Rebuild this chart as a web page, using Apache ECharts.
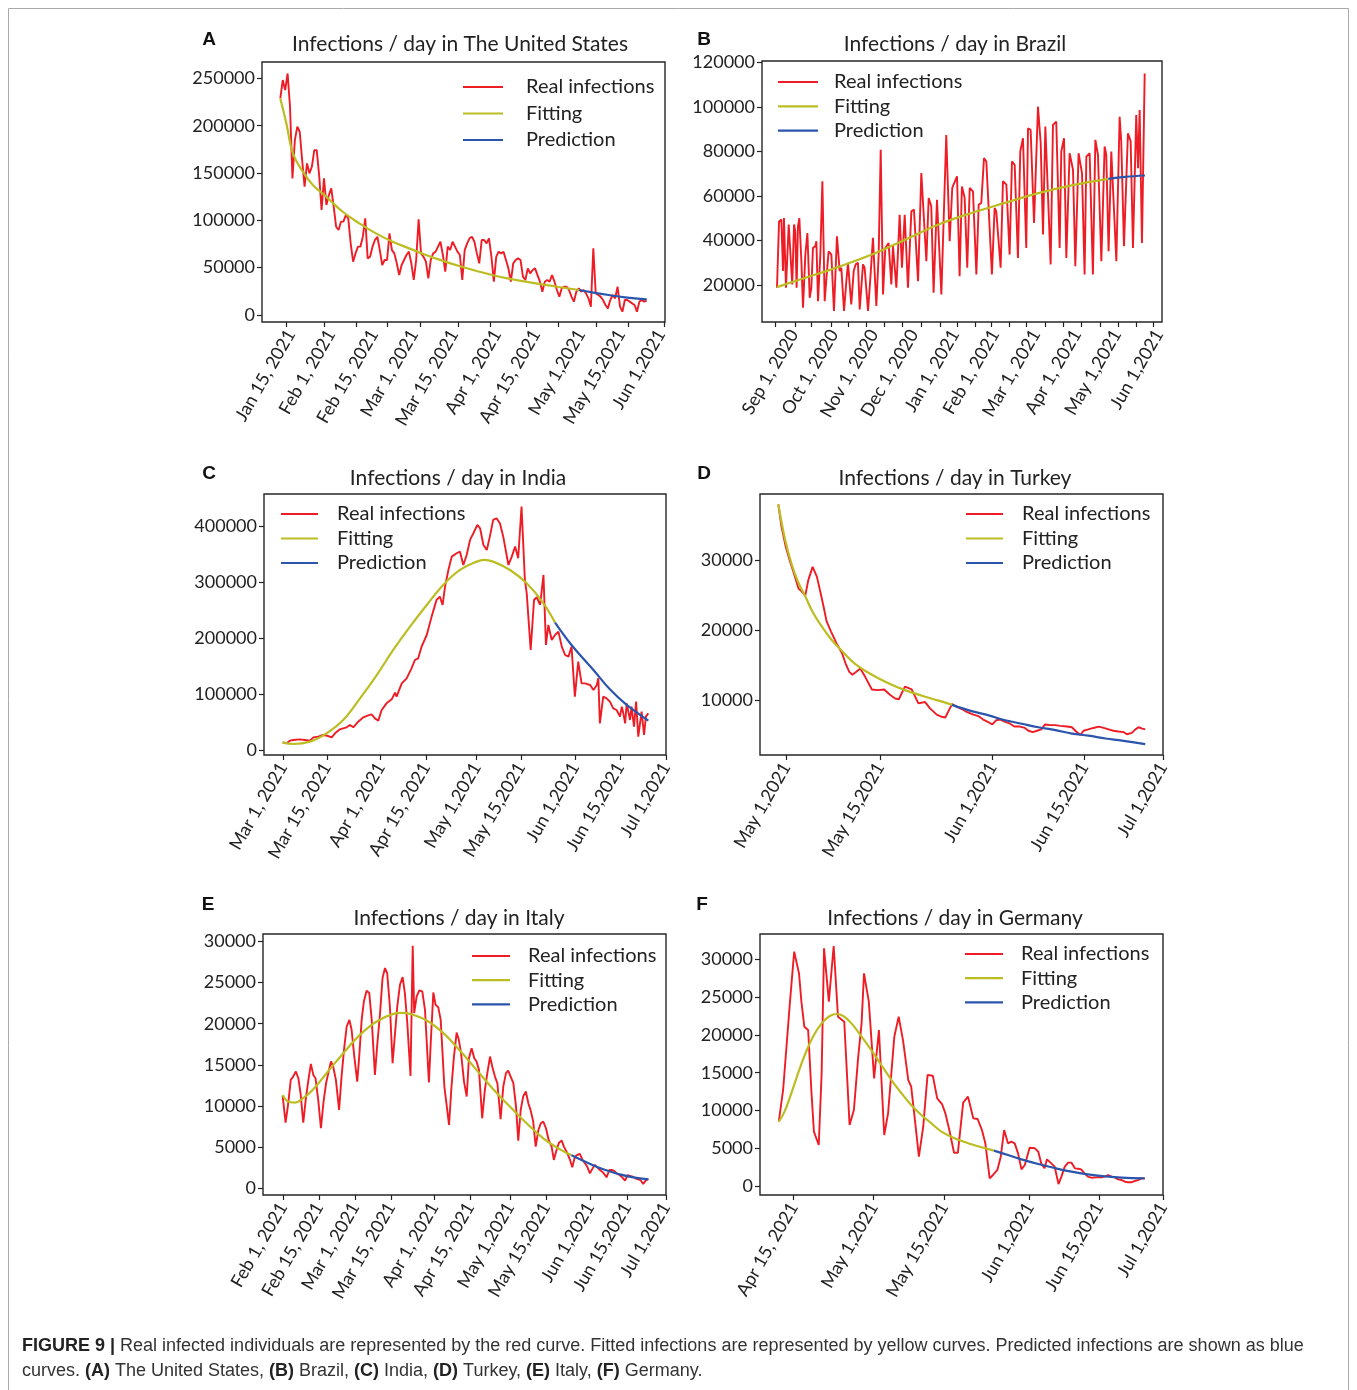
<!DOCTYPE html>
<html><head><meta charset="utf-8">
<script src="https://cdn.jsdelivr.net/npm/echarts@6/dist/echarts.min.js"></script>
<style>html,body{margin:0;padding:0;background:#fff}#c{width:1357px;height:1390px}</style>
</head><body><div id="c"></div>
<script>
// ---------------- A: United States ----------------
const usReal = [228800,248200,237600,255200,220000,144300,184800,198900,193600,163700,
135500,160200,149600,156600,174200,174200,147800,110900,144300,116200,
126700,133800,114400,93300,89800,98600,98600,105600,102100,75700,
56300,65100,72200,72200,82700,102100,59800,61600,72200,79200,
82700,68600,52800,58100,58100,86200,68600,65100,54600,42200,
52800,58100,63400,66900,54600,37000,58100,101000,65100,61600,
56300,38700,58100,65100,66900,72200,77400,63400,45800,72200,
68600,77400,72200,66900,63400,37000,68600,75700,81000,82700,
77400,65100,54600,79200,79200,75700,81000,61600,35200,61600,
66900,65100,66900,58100,49300,35200,54600,58100,59800,58100,
40500,37000,49300,44000,47500,49300,42200,35200,24600,35200,
37000,35200,42200,35200,26400,19400,28200,29900,29900,26400,
19400,14100,24600,28200,24600,26400,22900,17600,8800,70400,
22900,21100,19400,15800,10600,7000,15800,21100,17600,29900,
8800,3500,15800,15800,14100,12300,10600,3500,14100,15800,
14100,15100];
const usFitDay = [0,2.5,5.2,9.3,13.4,18.9,25.7,32.6,39.4,46.3,53.1,60.0,66.8,73.7,80.5,87.3,94.2,101.0,107.9,114.7,123.2];
const usFitVal = [228800,202400,170700,151400,137300,125000,109100,96800,86200,77400,70400,63400,57400,51700,46800,42200,38400,35200,32400,29600,26400];
const usPredDay = [123.2,128.4,135.3,142.1,151];
const usPredVal = [26400,23900,21100,18700,16500];
const usTickPos = [2.3,18.0,31.2,44.0,57.6,73.2,86.4,101.3,114.4,130.1,143.3,158.1];
const usLabelPos = [4.4,20.9,38.6,55.1,71.6,89.3,105.4,123.9,140.4,156.9];
const usLabels = ['Jan 15, 2021','Feb 1, 2021','Feb 15, 2021','Mar 1, 2021','Mar 15, 2021','Apr 1, 2021','Apr 15, 2021','May 1,2021','May 15,2021','Jun 1,2021'];
const usYTicks = [0,50000,100000,150000,200000,250000];

// ---------------- B: Brazil ----------------
const brRealDay = [0,1.5,3.2,4.4,5.1,6.6,8.6,9.8,11.2,12.5,13.4,14.4,15.4,16.4,17.9,19.1,20.8,22.3,24.0,25.2,
26.4,28.1,28.9,30.1,31.8,33.3,35.0,36.7,37.9,39.9,41.8,44.0,46.0,47.2,49.2,50.9,52.1,54.5,56.3,57.7,
59.4,60.7,63.1,64.3,66.8,68.7,70.4,72.9,74.6,76.1,77.8,79.5,81.9,83.9,85.1,87.6,90.0,91.7,93.7,96.1,
98.6,100.5,103.5,105.9,107.1,109.6,111.3,113.2,114.9,117.4,120.6,124.2,126.7,128.6,132.1,
134.0,135.7,137.7,139.6,141.4,143.8,146.3,148.0,149.9,151.9,153.6,155.3,157.7,159.7,160.9,164.1,165.8,168.3,170.7,172.4,
174.4,176.8,178.5,180.5,182.9,184.2,186.1,188.6,191.5,193.5,195.2,196.9,198.3,200.8,202.5,204.9,207.4,208.6,210.6,212.3,
214.7,217.2,218.9,221.3,223.8,225.7,227.0,229.4,231.8,233.6,235.5,238.0,240.4,241.6,243.3,245.3,246.5,249.0,251.4,252.6,
254.6,257.5,259.5,261.2,263.6,264.9,266.1,267.8,269.8];
const brRealVal = [18800,48600,49400,26300,50100,18800,47200,46400,20300,47200,44200,18800,46400,50100,30700,9900,33700,43400,14300,18800,
36700,37500,39700,12800,33700,66600,12800,26300,35200,33700,8400,41900,26300,27800,8400,21800,30000,11300,26300,29300,
30000,9100,29300,27800,8400,24800,41200,10600,33700,80700,15800,36700,38900,20300,37500,18800,51600,27800,51600,18800,
53100,53900,21800,70300,69500,30700,59100,55400,16600,58300,15800,87400,39700,63600,68800,
24000,64300,59100,27800,63600,62100,24800,56100,56900,77000,75500,54600,24800,54600,53100,27800,66600,65100,33700,75500,
74000,32200,80000,85900,36700,90400,89700,47900,100100,83700,42700,91200,91200,29300,91900,93400,36700,80000,85900,32200,
79200,71800,28500,79200,70300,24800,77700,79200,24800,85200,78500,30700,82200,78500,35200,80000,79200,30700,95600,84500,
37500,88200,84500,36700,96400,72500,98600,38900,115000];
const brFitDay = [0,20.8,45.2,69.6,94.1,118.5,142.9,167.3,191.8,216.2,243.1];
const brFitVal = [19100,23300,28200,33700,40400,47200,52400,56900,61300,64800,67700];
const brPredDay = [243.1,255.3,270];
const brPredVal = [67700,68600,69200];
const brTickPos = [-1.5,13.2,24.9,39.6,52.1,65.3,78.5,91.7,105.7,119.6,132.1,145.3,157.0,170.2,182.7,196.6,209.8,223.0,237.0,250.2,263.4,275.9];
const brLabelPos = [12.5,41.8,71.2,100.5,130.6,159.9,190.0,220.1,249.5,280.3];
const brLabels = ['Sep 1, 2020','Oct 1, 2020','Nov 1, 2020','Dec 1, 2020','Jan 1, 2021','Feb 1, 2021','Mar 1, 2021','Apr 1, 2021','May 1,2021','Jun 1,2021'];
const brYTicks = [20000,40000,60000,80000,100000,120000];

// ---------------- C: India ----------------
const inRealDay = [0,1.3,2.4,3.5,5.7,7.3,9.0,10.1,11.7,13.3,15.0,16.1,17.2,18.8,21.0,22.1,23.2,24.8,26.5,28.1,
29.2,30.3,31.4,32.5,34.1,35.8,36.9,37.4,39.1,40.7,42.3,43.4,44.5,45.6,47.3,48.9,50.5,51.6,52.5,53.3,
54.4,55.5,57.1,58.2,59.3,60.4,61.5,62.6,63.9,64.8,65.9,67.0,68.0,69.1,70.2,71.3,72.4,74.1,75.2,76.3,
77.3,78.4,79.5,80.1,81.4,82.5,83.4,84.5,85.6,86.4,87.2,88.3,89.4,90.5,91.6,92.7,93.8,94.8,95.9,97.0,
98.1,99.2,100.9,102.0,103.1,103.6,104.1,105.2,106.3,107.4,108.5,109.6,110.7,111.3,111.8,112.4,112.9,114.0,114.5,115.3,
116.0,116.7,117.8,118.6,119.2,120.0];
const inRealVal = [13700,11900,16700,17900,19000,17900,16700,22600,23800,26800,25000,22600,29800,36900,40500,44600,40500,50600,58300,61900,
63700,56500,52400,71400,83300,90500,102400,95200,119000,128000,145800,160700,163700,184500,205300,238100,267800,273800,258900,291600,
321400,345200,351200,354100,330300,348200,375000,386900,401800,395800,366000,357100,380900,410700,413700,404700,380900,330300,345200,363100,
342200,434500,303600,279700,178600,267800,272600,258900,312500,187500,223200,196400,205300,211300,184500,169600,166700,184500,95200,157700,
119000,119000,116100,107100,116100,128000,47600,95200,92300,86300,74400,71400,59500,77400,65500,47600,83300,53600,77400,41700,
86300,23800,68400,26800,59500,65500];
const inFitDay = [0,3.5,9.0,14.4,19.9,25.4,30.9,36.3,41.8,47.3,52.7,58.2,63.7,66.1,69.1,74.6,80.1,85.6,89.4];
const inFitVal = [13700,10700,14900,29800,53600,92300,133900,178600,220200,258900,294600,321400,336300,339300,336300,321400,297600,261900,227400];
const inPredDay = [89.4,94.8,102.0,107.4,112.9,120.0];
const inPredVal = [227400,187500,142800,108300,80400,52400];
const inTickPos = [0.1,14.5,32.2,47.0,63.7,78.2,95.9,110.7,125.8];
const inLabels = ['Mar 1, 2021','Mar 15, 2021','Apr 1, 2021','Apr 15, 2021','May 1,2021','May 15,2021','Jun 1,2021','Jun 15,2021','Jul 1,2021'];
const inYTicks = [0,100000,200000,300000,400000];

// ---------------- D: Turkey ----------------
const trRealDay = [0,0.5,1.2,1.9,2.6,3.3,3.8,4.4,4.9,5.6,6.3,6.8,7.4,7.9,8.6,9.5,10.4,11.0,11.6,12.1,
12.7,13.4,14.2,15.3,16.3,17.3,18.3,19.1,19.7,20.7,21.8,22.9,24.0,24.8,25.9,26.7,27.3,28.4,29.2,30.0,
30.8,31.9,32.7,33.5,34.4,35.0,35.6,36.3,37.0,37.7,38.6,39.5,40.3,40.9,41.6,42.3,43.0,43.6,44.5,45.3,
46.1,47.2,48.0,48.7,49.4,49.9,50.7,51.5,52.4,53.2,54.0,54.8,55.6,56.5,57.0,57.8,58.4,58.9,59.5,60.0];
const trRealVal = [37900,34800,31900,29800,27900,25900,25500,24900,27100,29000,27600,25700,23300,21200,19800,18100,16700,15200,14000,13600,
14000,14500,13300,11500,11400,11500,10700,10200,10100,11900,11500,9500,9700,8800,7900,7600,7500,9400,9000,8700,
8300,7900,7700,7200,6800,6500,7100,7200,6900,6700,6200,6200,6000,5600,5400,5600,5800,6500,6400,6400,
6300,6200,6100,5500,5000,5600,5800,6000,6200,6000,5800,5600,5500,5400,5100,5300,5800,6100,5900,5800];
const trFitDay = [0,1.1,2.2,3.3,4.4,5.7,7.1,8.7,10.4,12.5,15.3,18.0,20.7,23.5,26.2,28.4];
const trFitVal = [37900,32900,29300,26700,24800,22400,20500,18600,17000,15200,13600,12400,11400,10600,9900,9300];
const trPredDay = [28.4,31.6,34.4,37.1,39.8,42.5,45.3,48.0,50.7,53.5,56.2,60.0];
const trPredVal = [9300,8400,7800,7100,6600,6100,5700,5200,4900,4500,4200,3700];
const trTickPos = [1.3,16.6,35.0,50.0,62.9];
const trLabels = ['May 1,2021','May 15,2021','Jun 1,2021','Jun 15,2021','Jul 1,2021'];
const trYTicks = [10000,20000,30000];

// ---------------- E: Italy ----------------
const itRealDay = [0,1.2,2.3,3.3,4.3,5.4,6.4,7.3,8.4,9.4,10.5,11.5,12.5,13.4,14.5,15.6,16.6,17.7,18.9,19.7,
20.6,21.7,23.0,24.0,25.0,26.1,27.2,28.1,29.2,30.4,31.2,32.2,33.1,34.2,35.3,36.3,37.6,38.6,39.7,40.7,
41.7,42.6,43.7,44.8,45.8,46.7,47.8,48.9,49.8,50.8,52.1,53.0,53.6,54.6,55.7,56.9,58.0,59.6,60.4,61.4,
62.3,63.4,64.4,65.9,67.8,68.8,69.8,70.9,71.8,72.7,73.9,75.0,75.9,77.0,78.1,79.0,80.0,81.3,82.4,83.4,
84.5,85.4,86.5,87.5,88.8,89.9,91.0,91.9,92.9,94.0,95.1,96.0,97.0,98.0,99.1,100.1,101.0,102.1,103.1,104.2,
105.2,106.2,107.3,108.4,109.6,110.5,111.6,112.6,113.7,114.6,116.0,117.1,118.0,119.1,120.0,121.1,122.2,123.2,124.1,125.2,
126.3,127.2,128.2,129.3,130.6,132.0,133.1,134.0,135.0,136.1,137.2,138.1,139.5,140.6,141.5,142.6,143.7,144.9,145.8,146.9,
147.9,149.0];
const itRealVal = [11230,7990,10340,13180,13580,14190,13380,11550,7990,10740,13180,15120,13780,13380,10740,7300,10340,12770,14390,15410,
14800,13180,9530,13580,16820,19660,20470,19260,16010,12970,16010,20470,22700,24000,23720,20470,13780,17630,21280,25540,
26760,26150,22090,15200,18850,22090,24730,25660,23720,20070,13660,29470,21280,23310,24040,23920,21690,12850,18040,23800,
22300,22010,20470,12360,7700,12360,16010,18930,18040,16420,12970,11150,15810,17030,15810,15410,14390,8510,11960,13990,
16010,14800,13580,12770,8390,12360,13990,14310,13580,12770,9930,5800,9530,11150,11760,10340,9530,8110,5070,7090,
7900,8110,7300,5880,5070,3450,4660,5550,5800,5070,4260,3450,2550,3850,4050,4180,3450,3040,2630,1820,
2430,2840,2550,2230,1910,1340,2230,2230,2150,1820,1620,1420,930,1620,1500,1420,1220,1090,1010,530,
930,1180];
const itFitDay = [0,2.3,5.0,8.4,12.5,17.9,24.7,31.5,38.3,45.1,48.5,51.9,58.7,65.5,72.2,79.0,85.8,92.6,99.4,106.2,113.0,117.7];
const itFitVal = [11350,10540,10420,10950,12040,13990,16420,18650,20270,21200,21320,21200,20390,18850,16740,14390,12040,9930,7900,6080,4740,4010];
const itPredDay = [117.7,123.8,130.6,137.4,142.9,149.0];
const itPredVal = [4010,3160,2310,1700,1340,1090];
const itTickPos = [0.1,14.8,29.5,44.1,61.7,76.3,92.6,107.3,125.2,140.3,156.2];
const itLabels = ['Feb 1, 2021','Feb 15, 2021','Mar 1, 2021','Mar 15, 2021','Apr 1, 2021','Apr 15, 2021','May 1,2021','May 15,2021','Jun 1,2021','Jun 15,2021','Jul 1,2021'];
const itYTicks = [0,5000,10000,15000,20000,25000,30000];

// ---------------- F: Germany ----------------
const deRealDay = [0,0.9,1.6,2.3,3.2,4.2,4.7,5.3,6.1,6.8,7.3,8.3,8.9,9.4,10.4,11.4,12.3,13.6,14.3,14.7,
15.6,16.5,17.2,17.7,18.7,19.8,20.8,21.9,22.7,24.0,24.9,25.8,26.9,27.5,28.2,29.1,30.0,30.9,32.0,32.9,
33.9,34.6,35.5,36.4,37.2,38.3,39.3,40.4,41.3,42.2,42.9,43.8,44.5,45.4,46.1,46.8,47.6,48.3,49.0,49.7,
50.4,51.1,52.1,53.2,53.9,54.5,55.2,55.7,56.6,57.3,58.1,58.7,59.4,60.1,60.8,61.5,62.2,62.8,63.5,64.2,
64.9,66.0,67.0,67.7,68.4,69.1,69.8,70.5,71.2,71.9,72.5,73.2,73.9,74.6,75.3,76.0];
const deRealVal = [8520,12710,18440,24180,31020,28150,24400,21090,20650,12270,7190,5430,14910,31460,24400,31770,22410,21750,13150,8070,
10060,17120,21530,28150,24400,14250,20650,6750,9620,19770,22410,19320,14030,13150,9180,3880,7850,14690,14600,11600,
10850,9620,7190,4410,4410,11030,11820,8960,8870,7410,5650,1010,1460,2120,3880,7410,5650,5870,5650,4320,
2210,2780,5070,4990,4540,3000,2340,3530,3000,2560,260,1240,2560,3090,3090,2340,2290,2210,1680,1240,
1100,1150,1150,1240,1460,1240,1150,880,790,570,490,490,660,790,1010,1010];
const deFitDay = [0,1.2,2.6,4.0,5.4,7.1,8.9,10.6,12.0,13.4,15.1,17.2,19.2,21.3,23.4,25.5,27.5,29.6,31.7,33.8,36.5,40.0,44.7];
const deFitVal = [8520,9840,12270,14910,17340,19770,21530,22500,22770,22500,21530,19770,18000,16020,14030,12270,10720,9400,8290,7190,6310,5520,4680];
const dePredDay = [44.7,47.6,50.4,53.9,57.3,60.8,64.2,67.7,71.2,76.0];
const dePredVal = [4680,4100,3530,2910,2380,1900,1540,1280,1100,1010];
const deTickPos = [3.1,19.7,34.3,52.1,66.5,79.8];
const deLabels = ['Apr 15, 2021','May 1,2021','May 15,2021','Jun 1,2021','Jun 15,2021','Jul 1,2021'];
const deYTicks = [0,5000,10000,15000,20000,25000,30000];

// ---------------- rendering ----------------
const FONT = 'Lato';
const RED = '#ee1c25', YEL = '#bcbd22', BLUE = '#2b55ad';
const pairs = (xs, ys) => xs.map((x, i) => [x, ys[i]]);

const panels = [
  {letter:'A', title:'Infections / day in The United States', box:[262,62,403,260], tx:460, ty:44,
   xr:[-7.55,158.55], yr:[-7400,267300], ticks:usTickPos, lpos:usLabelPos, labels:usLabels, yt:usYTicks,
   real:usReal.map((v,i)=>[i,v]), fit:pairs(usFitDay,usFitVal), pred:pairs(usPredDay,usPredVal),
   leg:[463,77,40,23,6.5]},
  {letter:'B', title:'Infections / day in Brazil', box:[762,61,400,261], tx:955, ty:44,
   xr:[-11.0,282.5], yr:[3440,120600], ticks:brTickPos, lpos:brLabelPos, labels:brLabels, yt:brYTicks,
   real:pairs(brRealDay,brRealVal), fit:pairs(brFitDay,brFitVal), pred:pairs(brPredDay,brPredVal),
   leg:[778,72,40,16,4.3]},
  {letter:'C', title:'Infections / day in India', box:[264,494,402,261], tx:458, ty:478,
   xr:[-6.1,125.8], yr:[-8900,457000], ticks:inTickPos, lpos:inTickPos, labels:inLabels, yt:inYTicks,
   real:pairs(inRealDay,inRealVal), fit:pairs(inFitDay,inFitVal), pred:pairs(inPredDay,inPredVal),
   leg:[281,504,37,19,4.5]},
  {letter:'D', title:'Infections / day in Turkey', box:[760,494,403,261], tx:955, ty:478,
   xr:[-3.0,62.9], yr:[2140,39400], ticks:trTickPos, lpos:trTickPos, labels:trLabels, yt:trYTicks,
   real:pairs(trRealDay,trRealVal), fit:pairs(trFitDay,trFitVal), pred:pairs(trPredDay,trPredVal),
   leg:[966,504,37,19,4.5]},
  {letter:'E', title:'Infections / day in Italy', box:[263,934,403,261], tx:459, ty:918,
   xr:[-8.0,156.2], yr:[-810,30900], ticks:itTickPos, lpos:itTickPos, labels:itLabels, yt:itYTicks,
   real:pairs(itRealDay,itRealVal), fit:pairs(itFitDay,itFitVal), pred:pairs(itPredDay,itPredVal),
   leg:[472,946,38,18,4.2]},
  {letter:'F', title:'Infections / day in Germany', box:[760,934,403,261], tx:955, ty:918,
   xr:[-3.9,79.8], yr:[-1190,33360], ticks:deTickPos, lpos:deTickPos, labels:deLabels, yt:deYTicks,
   real:pairs(deRealDay,deRealVal), fit:pairs(deFitDay,deFitVal), pred:pairs(dePredDay,dePredVal),
   leg:[965,944,38,18,4.2]}
];
const letterPos = [[209,40],[704,40],[209,474],[704,474],[208,905],[702,905]];

const grids = [], xAxes = [], yAxes = [], series = [], legends = [], graphics = [];
const tickStyle = {color:'#222', width:1.2};
panels.forEach((p, k) => {
  grids.push({left:p.box[0], top:p.box[1], width:p.box[2], height:p.box[3], show:true,
    borderColor:'#262626', borderWidth:1.4, backgroundColor:'transparent', containLabel:false});
  const lp = p.lpos, lb = p.labels;
  xAxes.push({type:'value', gridIndex:k, min:p.xr[0], max:p.xr[1],
    axisLine:{show:false, onZero:false}, splitLine:{show:false},
    axisTick:{show:true, length:5, lineStyle:tickStyle, customValues:p.ticks},
    axisLabel:{customValues:lp, rotate:60, margin:9, fontFamily:FONT, fontSize:18, color:'#222',
      formatter:(v)=>{let bi=0,bd=1e9; lp.forEach((q,i)=>{const d=Math.abs(q-v); if(d<bd){bd=d;bi=i;}}); return lb[bi];}}});
  yAxes.push({type:'value', gridIndex:k, min:p.yr[0], max:p.yr[1],
    axisLine:{show:false, onZero:false}, splitLine:{show:false},
    axisTick:{show:true, length:5, lineStyle:tickStyle, customValues:p.yt},
    axisLabel:{customValues:p.yt, margin:7, fontFamily:FONT, fontSize:18, color:'#222', formatter:(v)=>String(v)}});
  const common = {type:'line', xAxisIndex:k, yAxisIndex:k, symbol:'none', showSymbol:false, animation:false};
  series.push(Object.assign({}, common, {name:'Real infections', data:p.real, lineStyle:{color:RED, width:1.9}, itemStyle:{color:RED}, z:2}));
  series.push(Object.assign({}, common, {name:'Fitting', data:p.fit, smooth:0.4, lineStyle:{color:YEL, width:2.2}, itemStyle:{color:YEL}, z:3}));
  series.push(Object.assign({}, common, {name:'Prediction', data:p.pred, smooth:0.4, lineStyle:{color:BLUE, width:2.2}, itemStyle:{color:BLUE}, z:4}));
  const L = p.leg;
  legends.push({orient:'vertical', left:L[0], top:L[1], padding:0, icon:'rect', itemWidth:L[2], itemHeight:2.2, itemGap:L[4],
    selectedMode:false, data:['Real infections','Fitting','Prediction'],
    textStyle:{fontFamily:FONT, fontSize:20, color:'#222', padding:[0,0,0,L[3]-5], lineHeight:20}});
  graphics.push({type:'text', x:p.tx, y:p.ty, style:{text:p.title, fontFamily:FONT, fontSize:21, fill:'#222', align:'center', verticalAlign:'middle'}});
  graphics.push({type:'text', x:letterPos[k][0], y:letterPos[k][1], style:{text:p.letter, fontFamily:'Liberation Sans', fontWeight:'bold', fontSize:19, fill:'#111', align:'center', verticalAlign:'middle'}});
});

graphics.push({type:'rect', shape:{x:8.5, y:8.5, width:1340, height:1420}, style:{fill:'none', stroke:'#a9a9a9', lineWidth:1}, z:-1});
const capRich = {b:{fontFamily:'Liberation Sans', fontWeight:'bold', fontSize:18, fill:'#222'}};
graphics.push({type:'text', x:22, y:1346, style:{text:'{b|FIGURE 9 |} Real infected individuals are represented by the red curve. Fitted infections are represented by yellow curves. Predicted infections are shown as blue',
  fontFamily:'Liberation Sans', fontSize:18, fill:'#333', verticalAlign:'middle', rich:capRich}});
graphics.push({type:'text', x:22, y:1371, style:{text:'curves. {b|(A)} The United States, {b|(B)} Brazil, {b|(C)} India, {b|(D)} Turkey, {b|(E)} Italy, {b|(F)} Germany.',
  fontFamily:'Liberation Sans', fontSize:18, fill:'#333', verticalAlign:'middle', rich:capRich}});

const chart = echarts.init(document.getElementById('c'));
chart.setOption({
  backgroundColor:'#fff', animation:false,
  grid:grids, xAxis:xAxes, yAxis:yAxes, series:series, legend:legends, graphic:graphics
});
</script></body></html>
